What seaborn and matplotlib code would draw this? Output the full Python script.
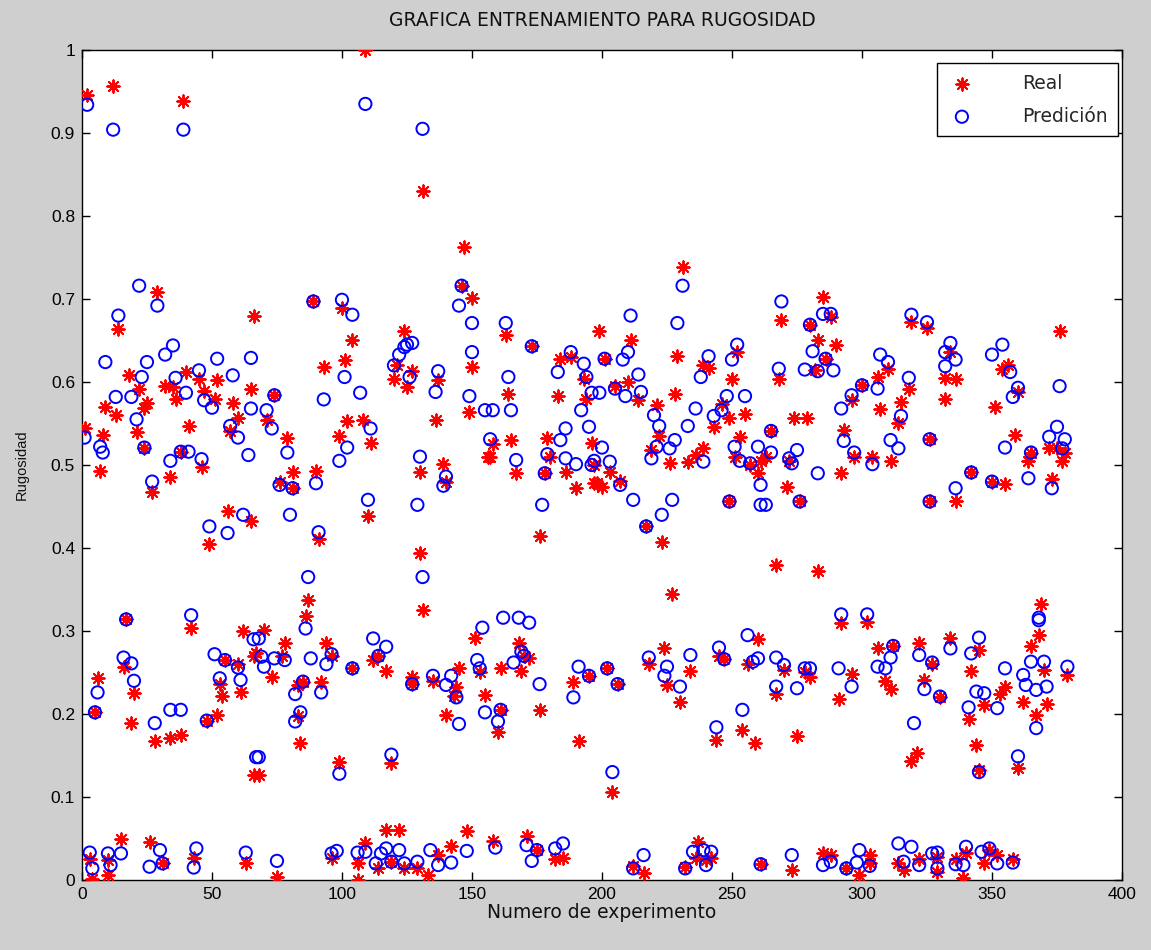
import numpy as np
import pandas as pd
import matplotlib
matplotlib.use("Agg")
import matplotlib.pyplot as plt
from matplotlib.ticker import FuncFormatter
import seaborn as sns

# ---------------------------------------------------------------------------
# Rugosidad real y predicha por experimento (bloques por rango de experimento)
# ---------------------------------------------------------------------------
# Experimentos 1-66
exp_real_1 = [2, 12, 39, 29, 14, 66, 18, 45, 52, 40, 32, 35, 22, 65, 47, 36, 51, 9, 25, 24, 58, 13, 60,
              41, 1, 8, 57, 21, 24, 38, 46, 7, 27, 34, 56, 65, 49,
              17, 42, 62, 66, 16, 20, 6, 5, 19, 28, 34, 38, 48, 52, 55, 60, 54, 53, 61, 66,
              3, 4, 10, 10, 15, 26, 31, 43, 63]
real_1 = [0.946, 0.956, 0.939, 0.708, 0.664, 0.680, 0.609, 0.603, 0.602, 0.612, 0.595, 0.594, 0.592, 0.592,
          0.589, 0.580, 0.579, 0.570, 0.575, 0.569, 0.575, 0.560, 0.556, 0.547, 0.545, 0.536, 0.541, 0.540,
          0.521, 0.516, 0.498, 0.493, 0.467, 0.485, 0.444, 0.432, 0.405,
          0.314, 0.304, 0.300, 0.270, 0.257, 0.225, 0.243, 0.202, 0.189, 0.167, 0.171, 0.175, 0.192, 0.199,
          0.265, 0.260, 0.222, 0.236, 0.226, 0.126,
          0.025, 0.001, 0.024, 0.006, 0.049, 0.046, 0.020, 0.026, 0.020]
exp_pred_1 = [2, 12, 39, 22, 29, 14, 9, 35, 32, 25, 23, 52, 65, 45, 36, 58, 40, 13, 19, 47, 50, 65, 21, 1,
              57, 60, 7, 8, 24, 41, 38, 34, 46, 64, 27, 62, 49, 56,
              17, 42, 66, 16, 19, 20, 6, 5, 28, 34, 38, 48, 51, 55, 60, 53, 61, 67,
              3, 4, 10, 11, 15, 26, 30, 31, 44, 43, 63]
pred_1 = [0.934, 0.904, 0.904, 0.716, 0.692, 0.680, 0.624, 0.644, 0.633, 0.624, 0.606, 0.628, 0.629, 0.614,
          0.605, 0.608, 0.587, 0.582, 0.582, 0.578, 0.569, 0.568, 0.555, 0.533, 0.547, 0.533, 0.522, 0.515,
          0.521, 0.516, 0.516, 0.505, 0.507, 0.512, 0.480, 0.440, 0.426, 0.418,
          0.314, 0.319, 0.290, 0.268, 0.261, 0.240, 0.226, 0.202, 0.189, 0.205, 0.205, 0.192, 0.272, 0.265,
          0.256, 0.243, 0.241, 0.148,
          0.033, 0.014, 0.032, 0.018, 0.032, 0.016, 0.036, 0.020, 0.038, 0.015, 0.033]

# Experimentos 67-132
exp_real_2 = [109, 131, 89, 100, 104, 124, 121, 127, 120, 125, 93, 101, 74, 71, 102, 108, 111, 79, 99, 130,
              81, 76, 81, 90, 110, 91, 130,
              131, 87, 86, 70, 67, 78, 77, 73, 94, 96, 85, 83, 92, 83, 84, 104, 114, 112, 117, 127, 127,
              68, 99, 119,
              75, 96, 106, 106, 109, 114, 117, 122, 119, 124, 129]
real_2 = [1.000, 0.830, 0.697, 0.689, 0.650, 0.661, 0.620, 0.613, 0.604, 0.594, 0.618, 0.627, 0.584, 0.554,
          0.553, 0.554, 0.527, 0.532, 0.535, 0.492, 0.492, 0.480, 0.472, 0.493, 0.439, 0.411, 0.394,
          0.325, 0.337, 0.318, 0.301, 0.273, 0.285, 0.270, 0.245, 0.285, 0.270, 0.239, 0.235, 0.239, 0.198,
          0.165, 0.255, 0.270, 0.265, 0.252, 0.245, 0.236, 0.126, 0.142, 0.141,
          0.003, 0.027, 0.000, 0.020, 0.044, 0.015, 0.060, 0.060, 0.022, 0.014, 0.014]
exp_pred_2 = [109, 131, 89, 100, 104, 127, 125, 124, 122, 120, 126, 101, 107, 74, 71, 73, 93, 111, 79, 102,
              99, 130, 76, 81, 90, 80, 110, 129, 91,
              131, 87, 86, 68, 69, 70, 74, 78, 88, 94, 96, 85, 82, 92, 84, 82, 104, 112, 117, 114, 127,
              68, 99, 119,
              75, 96, 98, 106, 109, 113, 117, 122, 119, 124, 129, 115]
pred_2 = [0.935, 0.905, 0.697, 0.699, 0.681, 0.647, 0.645, 0.642, 0.633, 0.620, 0.606, 0.606, 0.587, 0.584,
          0.566, 0.544, 0.579, 0.544, 0.515, 0.521, 0.505, 0.510, 0.476, 0.472, 0.478, 0.440, 0.458, 0.452,
          0.419,
          0.365, 0.365, 0.303, 0.291, 0.269, 0.257, 0.267, 0.265, 0.267, 0.260, 0.272, 0.239, 0.224, 0.226,
          0.202, 0.191, 0.255, 0.291, 0.281, 0.270, 0.236, 0.148, 0.128, 0.151,
          0.023, 0.032, 0.035, 0.033, 0.034, 0.020, 0.038, 0.036, 0.022, 0.020, 0.022, 0.032]

# Experimentos 133-197
exp_real_3 = [147, 146, 150, 163, 150, 173, 184, 188, 193, 137, 164, 136, 149, 183, 194, 158, 156, 157, 165,
              179, 178, 180, 167, 186, 190, 196, 197, 139, 140, 176,
              151, 168, 170, 169, 172, 153, 161, 145, 144, 143, 135, 155, 140, 161, 160, 176, 195, 189, 191,
              133, 137, 142, 148, 158, 171, 175, 182, 185]
real_3 = [0.763, 0.716, 0.701, 0.657, 0.618, 0.643, 0.628, 0.630, 0.604, 0.602, 0.585, 0.554, 0.564, 0.583,
          0.580, 0.525, 0.510, 0.510, 0.530, 0.532, 0.490, 0.510, 0.490, 0.491, 0.472, 0.526, 0.478, 0.501,
          0.480, 0.414,
          0.292, 0.286, 0.270, 0.252, 0.267, 0.250, 0.256, 0.256, 0.233, 0.222, 0.240, 0.223, 0.199, 0.205,
          0.178, 0.205, 0.246, 0.239, 0.167,
          0.006, 0.030, 0.041, 0.059, 0.047, 0.053, 0.036, 0.025, 0.026]
exp_pred_3 = [146, 145, 150, 163, 150, 173, 188, 193, 194, 183, 137, 164, 136, 149, 155, 158, 165, 196, 192,
              186, 184, 195, 157, 179, 178, 167, 186, 190, 196, 140, 139, 177,
              154, 162, 168, 172, 169, 166, 170, 152, 153, 142, 140, 144, 135, 145, 155, 161, 160, 176, 191,
              195, 189,
              134, 137, 142, 148, 159, 171, 173, 175, 182, 185]
pred_3 = [0.716, 0.692, 0.671, 0.671, 0.636, 0.643, 0.636, 0.622, 0.606, 0.612, 0.613, 0.606, 0.588, 0.583,
          0.566, 0.566, 0.566, 0.587, 0.566, 0.544, 0.530, 0.546, 0.531, 0.513, 0.490, 0.506, 0.508, 0.501,
          0.500, 0.486, 0.475, 0.452,
          0.304, 0.316, 0.316, 0.310, 0.275, 0.262, 0.270, 0.265, 0.255, 0.246, 0.235, 0.220, 0.246, 0.188,
          0.202, 0.205, 0.191, 0.236, 0.257, 0.246, 0.220,
          0.036, 0.018, 0.021, 0.035, 0.039, 0.042, 0.023, 0.036, 0.038, 0.044]

# Experimentos 198-262
exp_real_4 = [231, 199, 211, 229, 201, 210, 205, 214, 228, 241, 239, 252, 250, 246, 249, 243, 255, 221, 222,
              197, 203, 198, 200, 207, 219, 226, 233, 236, 239, 217, 223, 249, 253, 251, 257, 260,
              227, 224, 218, 225, 234, 230, 202, 206, 245, 247, 260, 256, 254, 259, 244, 204,
              212, 216, 232, 237, 236, 240, 242, 261]
real_4 = [0.738, 0.661, 0.651, 0.631, 0.628, 0.600, 0.595, 0.578, 0.585, 0.617, 0.620, 0.636, 0.604, 0.573,
          0.556, 0.546, 0.562, 0.572, 0.535, 0.500, 0.491, 0.478, 0.474, 0.481, 0.518, 0.502, 0.504, 0.512,
          0.520, 0.426, 0.407, 0.456, 0.534, 0.510, 0.500, 0.490,
          0.345, 0.280, 0.260, 0.235, 0.252, 0.215, 0.255, 0.236, 0.270, 0.266, 0.290, 0.260, 0.181, 0.165,
          0.169, 0.106,
          0.017, 0.008, 0.016, 0.046, 0.026, 0.024, 0.027, 0.019]
exp_pred_4 = [231, 211, 229, 210, 208, 201, 214, 205, 199, 209, 215, 241, 238, 252, 250, 236, 248, 255, 243,
              246, 220, 222, 233, 200, 197, 203, 207, 212, 221, 219, 226, 228, 239, 227, 223, 217, 249, 251,
              253, 260, 257, 261, 261,
              218, 225, 224, 234, 230, 202, 206, 245, 247, 256, 258, 260, 254, 244, 204,
              212, 216, 232, 235, 239, 240, 242, 261]
pred_4 = [0.716, 0.680, 0.671, 0.636, 0.627, 0.628, 0.609, 0.592, 0.587, 0.583, 0.588, 0.631, 0.606, 0.645,
          0.627, 0.568, 0.583, 0.583, 0.559, 0.566, 0.560, 0.547, 0.547, 0.521, 0.505, 0.504, 0.476, 0.458,
          0.522, 0.508, 0.520, 0.530, 0.504, 0.458, 0.440, 0.426, 0.456, 0.522, 0.505, 0.522, 0.502, 0.476,
          0.452,
          0.268, 0.257, 0.246, 0.271, 0.233, 0.255, 0.236, 0.280, 0.266, 0.295, 0.263, 0.267, 0.205, 0.184,
          0.130,
          0.014, 0.030, 0.014, 0.034, 0.036, 0.018, 0.034, 0.019]

# Experimentos 263-328
exp_real_5 = [285, 269, 288, 280, 319, 325, 283, 290, 286, 282, 268, 310, 318, 306, 300, 296, 315, 314, 307,
              274, 279, 265, 293, 263, 261, 272, 297, 304, 311, 326, 271, 276, 292, 326,
              267, 283, 292, 302, 270, 278, 280, 267, 291, 296, 275, 306, 312, 309, 311, 322, 324, 327, 321,
              319,
              273, 285, 288, 294, 299, 303, 303, 314, 316, 322]
real_5 = [0.702, 0.675, 0.678, 0.669, 0.672, 0.665, 0.651, 0.645, 0.628, 0.615, 0.603, 0.616, 0.592, 0.606,
          0.596, 0.578, 0.576, 0.550, 0.568, 0.557, 0.557, 0.541, 0.542, 0.510, 0.505, 0.505, 0.510, 0.510,
          0.505, 0.531, 0.474, 0.456, 0.490, 0.456,
          0.380, 0.372, 0.310, 0.311, 0.253, 0.250, 0.245, 0.224, 0.218, 0.248, 0.173, 0.280, 0.282, 0.240,
          0.230, 0.285, 0.241, 0.260, 0.153, 0.143,
          0.012, 0.032, 0.030, 0.014, 0.006, 0.030, 0.020, 0.020, 0.012, 0.025]
exp_pred_5 = [269, 285, 288, 280, 319, 325, 281, 286, 278, 283, 289, 268, 307, 310, 318, 306, 300, 296, 292,
              315, 265, 293, 311, 314, 265, 275, 272, 273, 297, 304, 326, 263, 276, 283, 326,
              292, 302, 267, 270, 278, 280, 267, 275, 291, 296, 312, 311, 306, 309, 322, 324, 327, 320,
              273, 285, 288, 294, 299, 298, 303, 314, 319, 316, 322, 327]
pred_5 = [0.697, 0.682, 0.682, 0.669, 0.681, 0.672, 0.637, 0.628, 0.615, 0.613, 0.614, 0.616, 0.633, 0.624,
          0.605, 0.592, 0.596, 0.584, 0.568, 0.559, 0.541, 0.529, 0.530, 0.520, 0.515, 0.518, 0.508, 0.502,
          0.515, 0.501, 0.531, 0.452, 0.456, 0.490, 0.456,
          0.320, 0.320, 0.268, 0.259, 0.255, 0.255, 0.233, 0.231, 0.255, 0.233, 0.282, 0.268, 0.257, 0.255,
          0.271, 0.230, 0.262, 0.189,
          0.030, 0.018, 0.022, 0.014, 0.036, 0.021, 0.017, 0.044, 0.040, 0.022, 0.018, 0.032]

# Experimentos 329-376
exp_real_6 = [376, 334, 332, 336, 332, 354, 356, 360, 351, 359, 365, 364, 372, 375, 378, 377, 342, 350, 355,
              373, 336,
              369, 368, 365, 334, 345, 342, 370, 379, 355, 353, 347, 341, 362, 371, 330, 367, 344, 345, 360,
              329, 329, 336, 339, 340, 347, 349, 352, 358]
real_6 = [0.661, 0.636, 0.605, 0.604, 0.580, 0.616, 0.620, 0.588, 0.570, 0.536, 0.515, 0.505, 0.521, 0.521,
          0.514, 0.505, 0.491, 0.480, 0.477, 0.483, 0.456,
          0.333, 0.295, 0.282, 0.291, 0.277, 0.252, 0.253, 0.247, 0.233, 0.224, 0.211, 0.194, 0.214, 0.212,
          0.221, 0.199, 0.163, 0.132, 0.135,
          0.028, 0.010, 0.025, 0.002, 0.033, 0.020, 0.036, 0.030, 0.025]
exp_pred_6 = [334, 332, 336, 332, 354, 350, 357, 360, 358, 376, 355, 365, 375, 372, 378, 377, 342, 350, 364,
              373, 336,
              368, 368, 334, 345, 342, 355, 365, 370, 379, 362, 363, 344, 347, 352, 341, 367, 371, 330, 367,
              345, 360,
              329, 329, 336, 339, 340, 346, 349, 352, 358]
pred_6 = [0.647, 0.636, 0.627, 0.619, 0.645, 0.633, 0.612, 0.593, 0.582, 0.595, 0.521, 0.515, 0.546, 0.534,
          0.531, 0.520, 0.491, 0.480, 0.484, 0.472, 0.472,
          0.316, 0.313, 0.279, 0.292, 0.273, 0.255, 0.263, 0.263, 0.257, 0.247, 0.235, 0.227, 0.225, 0.207,
          0.208, 0.229, 0.233, 0.221, 0.183, 0.130, 0.149,
          0.033, 0.014, 0.019, 0.018, 0.040, 0.034, 0.038, 0.020, 0.021]

x_ticks = [0, 50, 100, 150, 200, 250, 300, 350, 400]
y_ticks = [0, 0.1, 0.2, 0.3, 0.4, 0.5, 0.6, 0.7, 0.8, 0.9, 1.0]

titulo = "GRAFICA ENTRENAMIENTO PARA RUGOSIDAD"
etiqueta_x = "Numero de experimento"
etiqueta_y = "Rugosidad"
nombre_real = "Real"
nombre_pred = "Predición"

# ---------------------------------------------------------------------------
df_real = pd.DataFrame({
    "experimento": exp_real_1 + exp_real_2 + exp_real_3 + exp_real_4 + exp_real_5 + exp_real_6,
    "rugosidad": real_1 + real_2 + real_3 + real_4 + real_5 + real_6,
})
df_pred = pd.DataFrame({
    "experimento": exp_pred_1 + exp_pred_2 + exp_pred_3 + exp_pred_4 + exp_pred_5 + exp_pred_6,
    "rugosidad": pred_1 + pred_2 + pred_3 + pred_4 + pred_5 + pred_6,
})

sns.set_style("ticks")
plt.rcParams["font.family"] = ["Liberation Sans", "DejaVu Sans"]
texto_ancho = ["DejaVu Sans"]

fig = plt.figure(figsize=(11.51, 9.50), dpi=100, facecolor="#cfcfcf")
ax = fig.add_axes([0.0712, 0.0737, 0.9036, 0.8737])
ax.set_facecolor("white")

sns.scatterplot(data=df_real, x="experimento", y="rugosidad", ax=ax,
                marker=(8, 2, 0), s=80, color="#ff0000", edgecolor="#ff0000",
                linewidth=1.4, label=nombre_real, zorder=3)
sns.scatterplot(data=df_pred, x="experimento", y="rugosidad", ax=ax,
                marker="o", s=78, facecolors="none", edgecolor="#0000ff",
                linewidth=1.4, label=nombre_pred, zorder=4)

ax.set_xlim(0, 400)
ax.set_ylim(0, 1)
ax.set_xticks(x_ticks)
ax.set_yticks(y_ticks)
ax.yaxis.set_major_formatter(FuncFormatter(lambda v, p: f"{v:g}"))
ax.tick_params(direction="in", length=6, width=1, top=True, right=True,
               labelsize=12.5, colors="black", pad=5)
for sp in ax.spines.values():
    sp.set_visible(True)
    sp.set_color("black")
    sp.set_linewidth(1)

ax.set_title(titulo, fontsize=13.5, pad=17, family=texto_ancho, color="#111111")
ax.set_xlabel(etiqueta_x, fontsize=13.5, labelpad=1, family=texto_ancho, color="#111111")
ax.set_ylabel(etiqueta_y, fontsize=10.5, labelpad=16, color="#111111")

leg = ax.legend(loc="upper right", bbox_to_anchor=(0.996, 0.984), borderaxespad=0,
                prop={"family": texto_ancho, "size": 13.5}, frameon=True, fancybox=False,
                framealpha=1, edgecolor="black", handlelength=1.6, handletextpad=2.4,
                borderpad=0.55, labelspacing=0.75)
leg.get_frame().set_linewidth(1)

fig.savefig("out.png", dpi=100, facecolor=fig.get_facecolor())
